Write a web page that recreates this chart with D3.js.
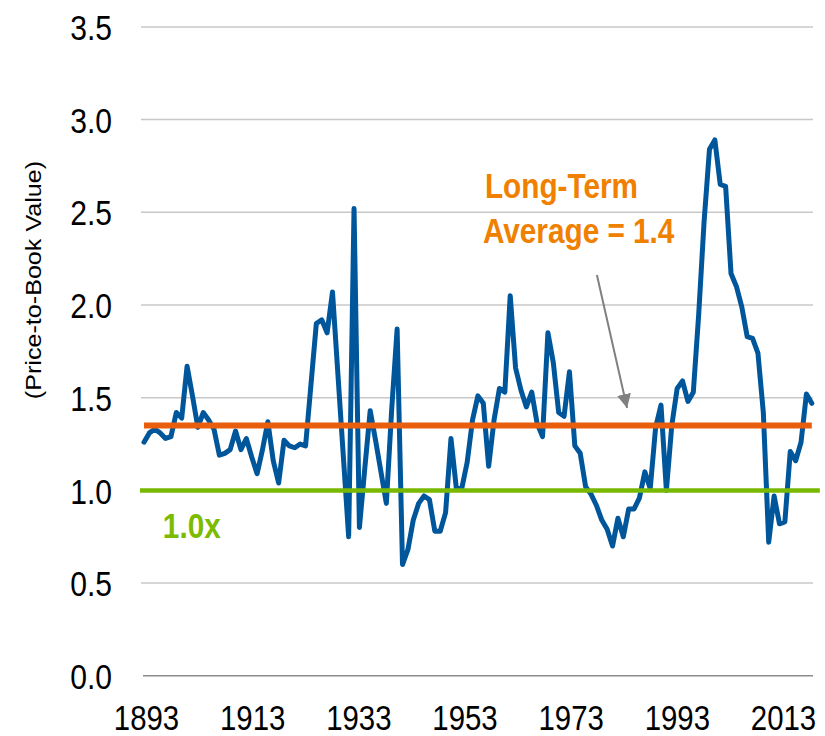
<!DOCTYPE html>
<html>
<head>
<meta charset="utf-8">
<script src="https://cdn.jsdelivr.net/npm/d3@7"></script>
<style>
  html, body { margin: 0; padding: 0; background: #fff; }
  svg { display: block; font-family: "Liberation Sans", Arial, sans-serif; }
</style>
</head>
<body>
<div id="chart"></div>
<script>
/* DATA */
// yearly price-to-book readings, 1893 - 2017
const years = d3.range(1893, 2018);
const priceToBook = [
  1.26, 1.31, 1.33, 1.31, 1.28, 1.29, 1.42, 1.39, 1.67, 1.51, // 1893-1902
  1.34, 1.42, 1.38, 1.33, 1.19, 1.20, 1.22, 1.32, 1.22, 1.28, // 1903-1912
  1.18, 1.09, 1.22, 1.37, 1.16, 1.04, 1.27, 1.24, 1.23, 1.25, // 1913-1922
  1.24, 1.57, 1.90, 1.92, 1.85, 2.07, 1.63, 1.19, 0.75, 2.52, // 1923-1932
  0.80, 1.12, 1.43, 1.27, 1.10, 0.93, 1.44, 1.87, 0.60, 0.68, // 1933-1942
  0.84, 0.93, 0.97, 0.95, 0.78, 0.78, 0.88, 1.28, 1.01, 1.01, // 1943-1952
  1.15, 1.38, 1.51, 1.47, 1.13, 1.38, 1.55, 1.53, 2.05, 1.66, // 1953-1962
  1.54, 1.45, 1.53, 1.36, 1.29, 1.85, 1.69, 1.42, 1.40, 1.64, // 1963-1972
  1.24, 1.20, 1.02, 0.98, 0.92, 0.84, 0.79, 0.70, 0.85, 0.75, // 1973-1982
  0.90, 0.90, 0.96, 1.10, 1.01, 1.34, 1.46, 1.00, 1.35, 1.55, // 1983-1992
  1.59, 1.48, 1.53, 1.95, 2.45, 2.84, 2.89, 2.65, 2.64, 2.17, // 1993-2002
  2.10, 1.99, 1.83, 1.82, 1.74, 1.42, 0.72, 0.97, 0.82, 0.83, // 2003-2012
  1.21, 1.16, 1.26, 1.52, 1.47                                // 2013-2017
];
const yTicks = [0, 0.5, 1.0, 1.5, 2.0, 2.5, 3.0, 3.5];
const xTickYears = [1893, 1913, 1933, 1953, 1973, 1993, 2013];
const longTermAverage = 1.35;
const parLevel = 1.0;
const avgLabel = ["Long-Term", "Average = 1.4"];
const parLabel = "1.0x";
const yTitle = "(Price-to-Book Value)";

/* CONSTANTS */
const width = 825,
  height = 736,
  plotLeft = 141,
  plotRight = 813,
  squeeze = 0.86; // the original's text is a bit narrow

const blue = "#00569b",
  orange = "#e85e0d",
  green = "#78b800";

/* SCALES */
const xScale = d3.scaleLinear()
  .domain([1893, 2017])
  .range([144, 811.8]);

// labels on the year axis sit on slightly tighter spacing than the points
const tickScale = d3.scaleLinear()
  .domain([1893, 2013])
  .range([146, 783]);

const yScale = d3.scaleLinear()
  .domain([0, 3.5])
  .range([675.8, 26.9]);

const svg = d3.select("#chart")
  .append("svg")
  .attr("width", width)
  .attr("height", height);

// arrow head
svg.append("defs")
  .append("marker")
  .attr("id", "head")
  .attr("markerUnits", "userSpaceOnUse")
  .attr("markerWidth", 16)
  .attr("markerHeight", 16)
  .attr("refX", 14)
  .attr("refY", 7)
  .attr("orient", "auto")
  .append("path")
  .attr("d", "M0,0L14,7L0,14Z")
  .attr("fill", "#808080");

// GRIDLINES
svg.append("g")
  .selectAll("line")
  .data(yTicks.filter(d => d > 0))
  .join("line")
  .attr("x1", plotLeft)
  .attr("x2", plotRight)
  .attr("y1", d => yScale(d))
  .attr("y2", d => yScale(d))
  .attr("stroke", "#c8c8c8")
  .attr("stroke-width", 1.5);

// base line at zero
svg.append("line")
  .attr("x1", plotLeft + 2)
  .attr("x2", plotRight)
  .attr("y1", yScale(0))
  .attr("y2", yScale(0))
  .attr("stroke", "#8c8c8c")
  .attr("stroke-width", 1.5);

// AXES
const yAxis = d3.axisLeft(yScale)
  .tickValues(yTicks)
  .tickFormat(d3.format(".1f"))
  .tickSize(0);

svg.append("g")
  .attr("transform", `translate(${plotLeft}, 0)`)
  .call(yAxis)
  .call(g => g.select(".domain").remove())
  .selectAll("text")
  .attr("x", -29 / squeeze)
  .attr("dy", "0.36em")
  .attr("transform", `scale(${squeeze},1)`)
  .style("font-size", "35px")
  .attr("fill", "#000");

const xAxis = d3.axisBottom(tickScale)
  .tickValues(xTickYears)
  .tickFormat(d3.format("d"))
  .tickSize(0);

svg.append("g")
  .attr("transform", `translate(0, ${yScale(0)})`)
  .call(xAxis)
  .call(g => g.select(".domain").remove())
  .selectAll("text")
  .attr("y", 54)
  .attr("dy", null)
  .style("font-size", "35px")
  .style("transform-box", "fill-box")
  .style("transform-origin", "center")
  .style("transform", `scaleX(${squeeze - 0.02})`)
  .attr("fill", "#000");

// Y TITLE
svg.append("text")
  .attr("transform", "translate(34, 280) rotate(-90) scale(1.17,1)")
  .attr("text-anchor", "middle")
  .attr("dominant-baseline", "central")
  .style("font-size", "21.5px")
  .attr("fill", "#000")
  .text(yTitle);

// SERIES
const line = d3.line()
  .x((d, i) => xScale(years[i]))
  .y(d => yScale(d));

svg.append("path")
  .datum(priceToBook)
  .attr("d", line)
  .attr("fill", "none")
  .attr("stroke", blue)
  .attr("stroke-width", 5)
  .attr("stroke-linejoin", "round")
  .attr("stroke-linecap", "round");

// 1.0x reference
svg.append("line")
  .attr("x1", xScale(1892.25))
  .attr("x2", xScale(2018.5))
  .attr("y1", yScale(parLevel))
  .attr("y2", yScale(parLevel))
  .attr("stroke", green)
  .attr("stroke-width", 4.5);

// long-term average
svg.append("line")
  .attr("x1", xScale(years[0]))
  .attr("x2", xScale(years[years.length - 1]))
  .attr("y1", yScale(longTermAverage))
  .attr("y2", yScale(longTermAverage))
  .attr("stroke", orange)
  .attr("stroke-width", 6);

// ANNOTATIONS
svg.append("g")
  .selectAll("text")
  .data(avgLabel)
  .join("text")
  .attr("transform", (d, i) => `translate(${xScale(1956.3) - i * 2}, ${yScale(2.577) + i * 45}) scale(0.85,1)`)
  .style("font-size", "35px")
  .style("font-weight", "bold")
  .attr("fill", "#f08000")
  .text(d => d);

svg.append("text")
  .attr("transform", `translate(${xScale(1896.5)}, ${yScale(0.743)}) scale(0.85,1)`)
  .style("font-size", "35px")
  .style("font-weight", "bold")
  .attr("fill", "#7dbb00")
  .text(parLabel);

svg.append("line")
  .attr("x1", xScale(1977.1))
  .attr("y1", yScale(2.162))
  .attr("x2", xScale(1982.7))
  .attr("y2", yScale(1.444))
  .attr("stroke", "#808080")
  .attr("stroke-width", 2)
  .attr("marker-end", "url(#head)");
</script>
</body>
</html>
